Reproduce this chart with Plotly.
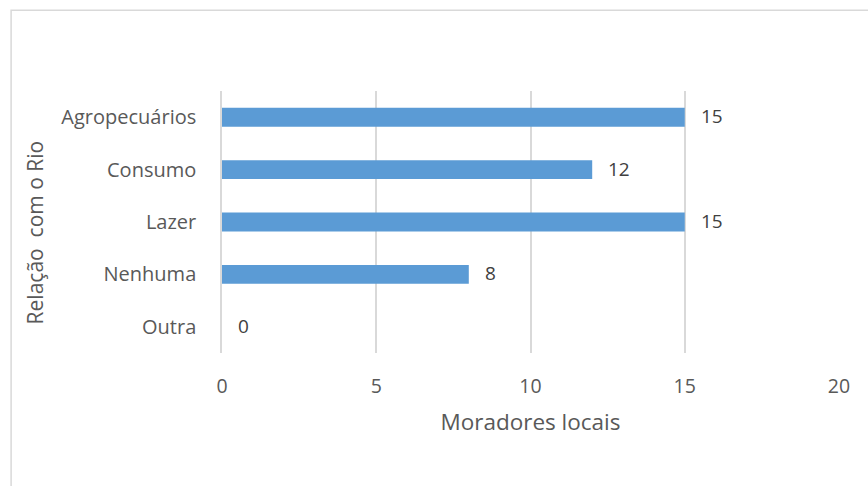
import plotly.graph_objects as go

categories = ["Agropecuários", "Consumo", "Lazer", "Nenhuma", "Outra"]
values = [15, 12, 15, 8, 0]
x_ticks = [0, 5, 10, 15, 20]

W, H = 868, 486
L, R, T, B = 222, 28.7, 90.7, 133.3
pw = W - L - R
ph = H - T - B

font_family = "Open Sans, Liberation Sans, sans-serif"

fig = go.Figure()
fig.add_trace(go.Bar(
    x=values, y=categories, orientation="h",
    marker=dict(color="#5B9BD5", line=dict(width=0)),
    width=0.36,
    hoverinfo="x+y",
))

for c, v in zip(categories, values):
    fig.add_annotation(x=v, y=c, text=str(v), showarrow=False,
                       xanchor="left", yanchor="middle", xshift=14, yshift=1,
                       font=dict(size=19, color="#404040", family=font_family))

# y-axis title placed as annotation (slightly below the plot-area centre, as in the reference)
fig.add_annotation(xref="paper", yref="paper", x=(35 - L) / pw, y=1 - (232 - T) / ph,
                   text="Relação  com o Rio", textangle=-90, showarrow=False,
                   xanchor="center", yanchor="middle",
                   font=dict(size=21, color="#595959", family=font_family))

fig.add_shape(type="rect", xref="paper", yref="paper",
              x0=(11 - L) / pw, x1=(W + 5 - L) / pw,
              y0=-(H + 5 - T - ph) / ph, y1=1 + (T - 10) / ph,
              line=dict(color="#d9d9d9", width=1.5), fillcolor="rgba(0,0,0,0)", layer="below")

fig.update_layout(
    width=W, height=H,
    margin=dict(l=L, r=R, t=T, b=B),
    paper_bgcolor="white", plot_bgcolor="white",
    showlegend=False,
    font=dict(family=font_family, color="#595959", size=19),
    xaxis=dict(range=[0, 20], tickvals=x_ticks, showgrid=True, gridcolor="#d9d9d9",
               gridwidth=1.5, zeroline=False, showline=False, ticks="",
               tickfont=dict(size=19.5, color="#595959"), ticklabelstandoff=19,
               title=dict(text="Moradores locais", font=dict(size=22.5, color="#595959"), standoff=16)),
    yaxis=dict(categoryorder="array", categoryarray=categories[::-1],
               showgrid=False, zeroline=False, showline=True, linecolor="#d9d9d9", linewidth=1.5,
               ticks="", tickfont=dict(size=20, color="#595959"), ticklabelstandoff=20),
)

fig.write_html("out.html")
